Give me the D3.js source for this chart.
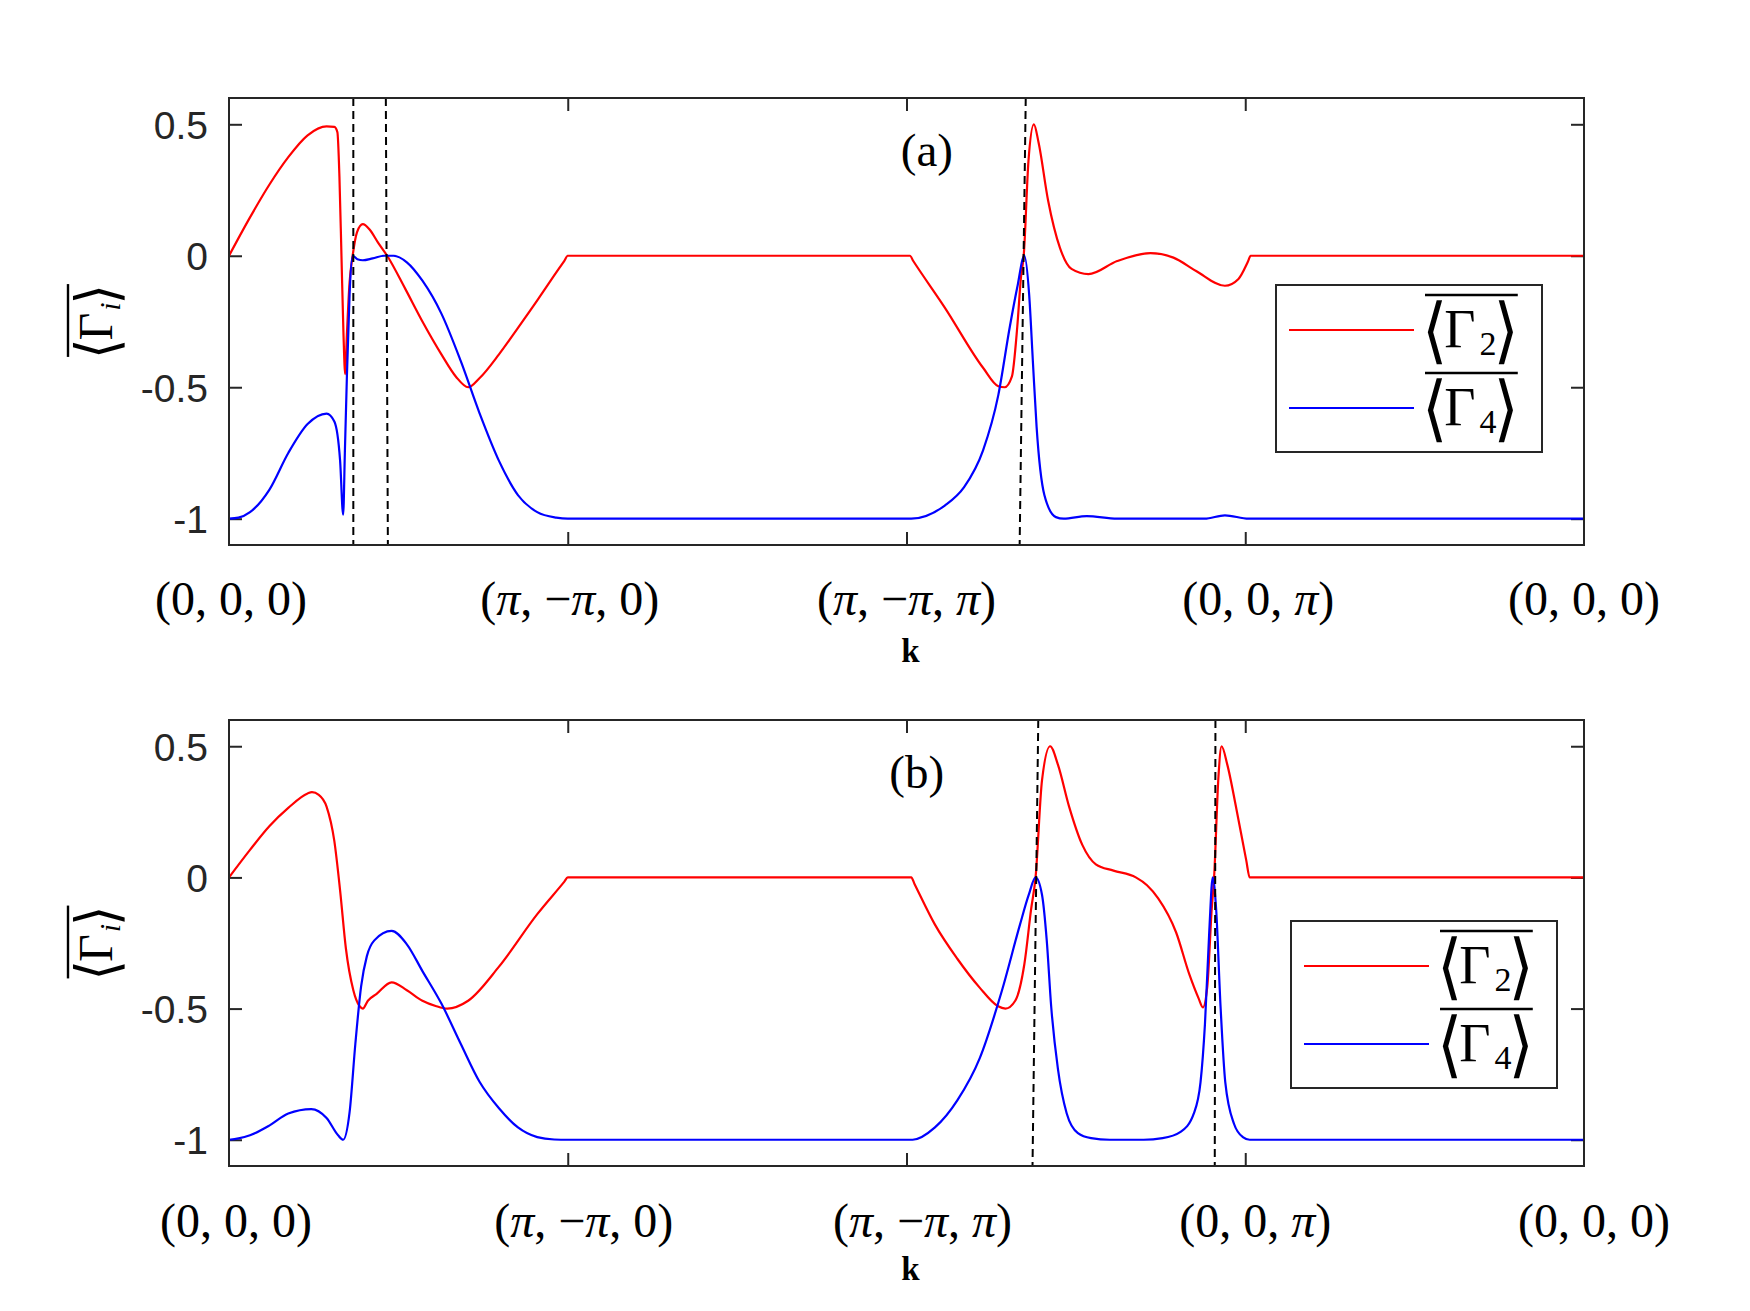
<!DOCTYPE html>
<html>
<head>
<meta charset="utf-8">
<script src="https://cdn.jsdelivr.net/npm/d3@7/dist/d3.min.js"></script>
<style>
  body { margin: 0; background: #fff; }
  svg { display: block; }
  .frame { fill: none; stroke: #262626; stroke-width: 2; }
  .tick line { stroke: #262626; stroke-width: 2; }
  .ytick text { font-family: "Liberation Sans", Arial, sans-serif; font-size: 39px; fill: #262626; }
  .math { font-family: "Liberation Serif", "Times New Roman", serif; fill: #000; }
  .bracket { font-family: "DejaVu Sans Condensed", "DejaVu Sans", sans-serif; font-weight: 200; }
  .curve { fill: none; stroke-width: 2.2; }
  .dash { stroke: #000; stroke-width: 2; stroke-dasharray: 8 5; }
  .legend-box { fill: #fff; stroke: #262626; stroke-width: 2; }
</style>
</head>
<body>
<svg id="chart"></svg>
<script>
// k-path ticks
const xTicks = [0, 1, 2, 3, 4];
const xTickLabels = ['(0, 0, 0)', '(π, −π, 0)', '(π, −π, π)', '(0, 0, π)', '(0, 0, 0)'];
const yTicks = [-1, -0.5, 0, 0.5];
const yTickLabels = ['-1', '-0.5', '0', '0.5'];
const seriesSubs = ['2', '4'];
const panelTags = ['(a)', '(b)'];

// panel (a)
const aG2k = [0, 0.062, 0.119, 0.175, 0.232, 0.288, 0.311, 0.320, 0.326, 0.332, 0.338, 0.343, 0.348, 0.356, 0.365, 0.378, 0.395, 0.415, 0.440, 0.467, 0.52, 0.571, 0.627, 0.67, 0.706, 0.74, 0.797, 0.85, 0.910, 0.96, 0.99, 1.0, 2.01, 2.02, 2.113, 2.226, 2.271, 2.29, 2.311, 2.327, 2.338, 2.346, 2.36, 2.376, 2.39, 2.418, 2.453, 2.487, 2.537, 2.622, 2.72, 2.788, 2.855, 2.94, 2.98, 3.008, 3.016, 4];
const aG2 = [0, 0.146, 0.27, 0.375, 0.458, 0.492, 0.49, 0.47, 0.30, 0.0, -0.30, -0.45, -0.30, -0.10, 0.0, 0.09, 0.12, 0.10, 0.05, 0.0, -0.125, -0.25, -0.375, -0.46, -0.5, -0.465, -0.375, -0.28, -0.17, -0.075, -0.019, 0, 0, -0.02, -0.197, -0.426, -0.496, -0.5, -0.46, -0.27, -0.08, 0, 0.36, 0.5, 0.43, 0.21, 0.03, -0.05, -0.07, -0.02, 0.01, -0.007, -0.058, -0.114, -0.088, -0.022, 0, 0];
const aG4k = [0, 0.028, 0.062, 0.119, 0.175, 0.232, 0.288, 0.311, 0.328, 0.337, 0.342, 0.348, 0.356, 0.365, 0.379, 0.395, 0.424, 0.458, 0.486, 0.525, 0.571, 0.627, 0.684, 0.740, 0.797, 0.853, 0.910, 0.966, 1.0, 2.014, 2.113, 2.170, 2.226, 2.271, 2.305, 2.327, 2.348, 2.362, 2.373, 2.384, 2.407, 2.441, 2.464, 2.532, 2.622, 2.88, 2.94, 3.01, 4];
const aG4 = [-1, -0.996, -0.975, -0.89, -0.75, -0.64, -0.60, -0.63, -0.78, -0.985, -0.75, -0.46, -0.146, 0, -0.013, -0.017, -0.01, 0, 0, -0.025, -0.095, -0.22, -0.4, -0.6, -0.78, -0.91, -0.975, -0.996, -1, -1, -0.95, -0.88, -0.74, -0.53, -0.27, -0.12, 0, -0.146, -0.4, -0.65, -0.91, -0.994, -1, -0.99, -1, -1, -0.987, -1, -1];
const aDashTop = [0.367, 0.463, 2.352];
const aDashBottom = [0.367, 0.469, 2.334];

// panel (b)
const bG2k = [0, 0.062, 0.119, 0.175, 0.232, 0.245, 0.265, 0.288, 0.311, 0.328, 0.345, 0.367, 0.385, 0.395, 0.41, 0.435, 0.48, 0.525, 0.571, 0.61, 0.644, 0.706, 0.797, 0.910, 0.99, 1.0, 2.014, 2.024, 2.084, 2.150, 2.216, 2.269, 2.292, 2.321, 2.348, 2.368, 2.381, 2.40, 2.424, 2.447, 2.48, 2.519, 2.559, 2.611, 2.677, 2.71, 2.743, 2.796, 2.835, 2.862, 2.875, 2.888, 2.901, 2.908, 2.921, 2.93, 2.947, 2.974, 3.003, 3.013, 4];
const bG2 = [0, 0.105, 0.195, 0.265, 0.32, 0.325, 0.315, 0.27, 0.138, -0.05, -0.27, -0.43, -0.49, -0.5, -0.47, -0.445, -0.40, -0.43, -0.47, -0.49, -0.5, -0.47, -0.34, -0.14, -0.016, 0, 0, -0.026, -0.18, -0.31, -0.42, -0.49, -0.5, -0.47, -0.33, -0.12, 0, 0.37, 0.5, 0.43, 0.27, 0.124, 0.05, 0.026, 0, -0.03, -0.08, -0.21, -0.37, -0.46, -0.495, -0.415, -0.12, 0, 0.386, 0.5, 0.43, 0.26, 0.065, 0, 0];
const bG4k = [0, 0.028, 0.062, 0.119, 0.175, 0.243, 0.288, 0.322, 0.337, 0.356, 0.373, 0.390, 0.407, 0.429, 0.48, 0.525, 0.571, 0.627, 0.684, 0.740, 0.797, 0.853, 0.910, 0.96, 1.0, 2.018, 2.084, 2.150, 2.216, 2.282, 2.335, 2.361, 2.381, 2.40, 2.414, 2.427, 2.447, 2.473, 2.506, 2.545, 2.60, 2.70, 2.756, 2.809, 2.848, 2.868, 2.881, 2.894, 2.904, 2.914, 2.927, 2.941, 2.967, 2.993, 3.013, 4];
const bG4 = [-1, -0.995, -0.983, -0.946, -0.90, -0.883, -0.917, -0.983, -1, -0.895, -0.634, -0.415, -0.3, -0.24, -0.204, -0.255, -0.357, -0.481, -0.634, -0.78, -0.88, -0.953, -0.99, -0.999, -1, -1, -0.953, -0.85, -0.69, -0.43, -0.18, -0.066, 0, -0.066, -0.24, -0.49, -0.73, -0.9, -0.975, -0.994, -1, -1, -0.994, -0.97, -0.9, -0.78, -0.56, -0.2, 0, -0.12, -0.49, -0.78, -0.94, -0.99, -1, -1];
const bDashTop = [2.389, 2.912];
const bDashBottom = [2.372, 2.910];

const tagPos = [[2.06, 0.34], [2.03, 0.34]];

const width = 1750;
const height = 1311;
const left = 229;
const right = 1584;

const panels = [
  {
    top: 98, bottom: 545, tag: panelTags[0], tagAt: tagPos[0],
    g2: d3.zip(aG2k, aG2), g4: d3.zip(aG4k, aG4),
    dash: d3.zip(aDashTop, aDashBottom),
    legendX: 1276, legendY: 285, labelDx: [2, 2, 0, 13, 0], labelDy: 70, kDy: 117,
  },
  {
    top: 720, bottom: 1166, tag: panelTags[1], tagAt: tagPos[1],
    g2: d3.zip(bG2k, bG2), g4: d3.zip(bG4k, bG4),
    dash: d3.zip(bDashTop, bDashBottom),
    legendX: 1291, legendY: 921, labelDx: [7, 16, 16, 10, 10], labelDy: 71, kDy: 114,
  },
];

const svg = d3.select('#chart')
  .attr('width', width)
  .attr('height', height);

// overlined <Gamma_sub>, one text element
const gammaMean = (g, sub, o) => {
  const t = g.append('text')
    .attr('class', 'math')
    .attr('text-anchor', o.anchor || 'start');
  t.append('tspan').attr('class', 'bracket')
    .style('font-size', o.br + 'px').attr('dy', o.brDy).text('⟨');
  t.append('tspan').style('font-size', o.fs + 'px')
    .attr('dy', -o.brDy).attr('dx', o.gap).text('Γ');
  t.append('tspan').style('font-size', o.sub + 'px')
    .style('font-style', o.italic ? 'italic' : 'normal')
    .attr('dx', o.subDx).attr('dy', o.subDy).text(sub);
  t.append('tspan').attr('class', 'bracket')
    .style('font-size', o.br + 'px').attr('dx', o.gap)
    .attr('dy', o.brDy - o.subDy).text('⟩');
  const bb = t.node().getBBox();
  g.append('line')
    .attr('x1', bb.x + o.trim).attr('x2', bb.x + bb.width - o.trim + 2)
    .attr('y1', -o.bar).attr('y2', -o.bar)
    .attr('stroke', '#000').attr('stroke-width', 2.4);
  return t;
};

panels.forEach(p => {
  const x = d3.scaleLinear().domain([0, 4]).range([left, right]);
  const y = d3.scaleLinear().domain([-1.1, 0.6]).range([p.bottom, p.top]);

  const line = d3.line()
    .x(d => x(d[0]))
    .y(d => y(d[1]))
    .curve(d3.curveMonotoneX);

  const g = svg.append('g');

  // ticks on all four sides, inward
  g.append('g').attr('class', 'ytick')
    .attr('transform', `translate(${left},0)`)
    .call(d3.axisLeft(y).tickValues(yTicks).tickSize(-13).tickPadding(21)
      .tickFormat((d, i) => yTickLabels[i]))
    .call(s => s.select('.domain').remove())
    .selectAll('text').attr('dy', '0.36em');

  g.append('g')
    .attr('transform', `translate(${right},0)`)
    .call(d3.axisRight(y).tickValues(yTicks).tickSize(-13).tickFormat(''))
    .call(s => s.select('.domain').remove());

  g.append('g')
    .attr('transform', `translate(0,${p.bottom})`)
    .call(d3.axisBottom(x).tickValues(xTicks.slice(1, -1)).tickSize(-13).tickFormat(''))
    .call(s => s.select('.domain').remove());

  g.append('g')
    .attr('transform', `translate(0,${p.top})`)
    .call(d3.axisTop(x).tickValues(xTicks.slice(1, -1)).tickSize(-13).tickFormat(''))
    .call(s => s.select('.domain').remove());

  // curves
  g.append('path').attr('class', 'curve')
    .attr('stroke', '#ff0000').attr('d', line(p.g2));
  g.append('path').attr('class', 'curve')
    .attr('stroke', '#0000ff').attr('d', line(p.g4));

  // dashed markers
  g.selectAll('.dash')
    .data(p.dash)
    .enter().append('line')
    .attr('class', 'dash')
    .attr('x1', d => x(d[0])).attr('y1', p.top)
    .attr('x2', d => x(d[1])).attr('y2', p.bottom);

  g.append('rect').attr('class', 'frame')
    .attr('x', left).attr('y', p.top)
    .attr('width', right - left).attr('height', p.bottom - p.top);

  // x tick labels with italic pi
  xTicks.forEach((t, i) => {
    const txt = g.append('text')
      .attr('class', 'math')
      .attr('text-anchor', 'middle')
      .attr('x', x(t) + p.labelDx[i])
      .attr('y', p.bottom + p.labelDy)
      .style('font-size', '48px');
    xTickLabels[i].split(/(π)/).filter(s => s).forEach(s => {
      txt.append('tspan')
        .style('font-style', s === 'π' ? 'italic' : 'normal')
        .text(s);
    });
  });

  g.append('text')
    .attr('class', 'math')
    .attr('text-anchor', 'middle')
    .attr('x', x(2) + 4)
    .attr('y', p.bottom + p.kDy)
    .style('font-size', '33px')
    .style('font-weight', 'bold')
    .text('k');

  g.append('text')
    .attr('class', 'math')
    .attr('text-anchor', 'middle')
    .attr('x', x(p.tagAt[0]))
    .attr('y', y(p.tagAt[1]))
    .style('font-size', '47px')
    .text(p.tag);

  // y label
  const yl = g.append('g')
    .attr('transform', `translate(112,${(p.top + p.bottom) / 2}) rotate(-90)`);
  gammaMean(yl, 'i', {
    anchor: 'middle', fs: 48, br: 58, brDy: 5, sub: 30, subDx: 2, subDy: 8,
    gap: -2, bar: 44, trim: 2, italic: true,
  });

  // legend
  const lg = g.append('g')
    .attr('transform', `translate(${p.legendX},${p.legendY})`);
  lg.append('rect').attr('class', 'legend-box')
    .attr('width', 266).attr('height', 167);
  [['#ff0000', 45, 62], ['#0000ff', 123, 140]].forEach((row, i) => {
    lg.append('line')
      .attr('x1', 13).attr('x2', 138)
      .attr('y1', row[1]).attr('y2', row[1])
      .attr('stroke', row[0]).attr('stroke-width', 2.2);
    const e = lg.append('g').attr('transform', `translate(146,${row[2]})`);
    gammaMean(e, seriesSubs[i], {
      fs: 54, br: 72, brDy: 8, sub: 34, subDx: 4, subDy: 8,
      gap: -3, bar: 52, trim: 3, italic: false,
    });
  });
});
</script>
</body>
</html>
